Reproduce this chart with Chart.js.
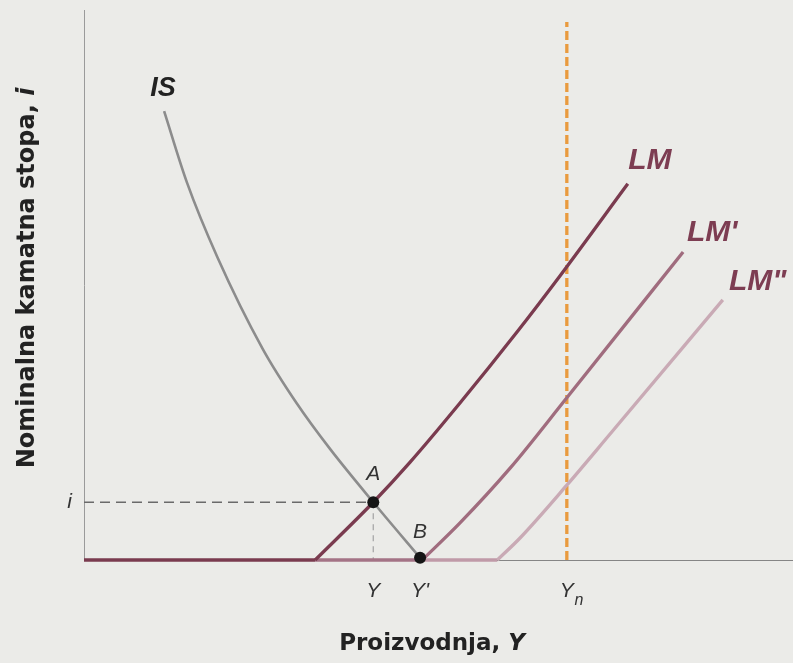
<!DOCTYPE html>
<html>
<head>
<meta charset="utf-8">
<script src="https://cdn.jsdelivr.net/npm/chart.js@4.4.1/dist/chart.umd.min.js"></script>
<style>
  html, body { margin: 0; padding: 0; background: #ebebe8; }
</style>
</head>
<body>
<canvas id="islm_chart" width="793" height="663"></canvas>
<script>
// values, both axes on a 0-100 scale
var isX = [11.3, 14.5, 18.8, 25.2, 30.0, 34.7, 40.8, 47.4];
var isY = [81.6, 68.7, 55.1, 38.4, 28.5, 20.2, 10.5, 0.4];

// LM curves: first point is the kink where the flat part ends
var lmX = [32.6, 40.8, 46.0, 53.0, 61.1, 67.1, 76.7];
var lmY = [0, 10.5, 17.8, 28.5, 41.5, 51.6, 68.4];

var lm1X = [47.7, 53.0, 60.1, 68.1, 84.5];
var lm1Y = [0, 6.7, 16.7, 29.5, 56.0];

var lm2X = [58.3, 61.5, 68.1, 74.2, 90.1];
var lm2Y = [0, 4.0, 13.6, 22.9, 47.3];

var ynX = 68.1;        // natural output
var ynTop = 97.8;
var pointA = { x: 40.8, y: 10.5 };
var pointB = { x: 47.4, y: 0.4 };

var xTicks = [40.8, 47.4, 68.1];
var xTickLabels = ["Y", "Y'", "Y"];
var yTicks = [10.5];
var yTickLabels = ["i"];

function pts(xs, ys) {
  return xs.map(function (x, k) { return { x: x, y: ys[k] }; });
}
function flat(from, to) {
  return [{ x: from, y: 0 }, { x: to, y: 0 }];
}

var labelsPlugin = {
  id: "islmLabels",
  afterDraw: function (chart) {
    var c = chart.ctx;
    var xs = chart.scales.x, ys = chart.scales.y;
    function px(x) { return xs.getPixelForValue(x); }
    function py(y) { return ys.getPixelForValue(y); }
    c.save();
    c.textAlign = "center";
    c.textBaseline = "middle";

    // curve names
    c.font = "bold italic 27px 'Liberation Sans'";
    c.fillStyle = "#222";
    c.fillText("IS", px(isX[0]) - 1, py(isY[0]) - 23);
    c.font = "bold italic 30px 'Liberation Sans'";
    c.fillStyle = "#7d3d52";
    c.fillText("LM", px(lmX[lmX.length - 1]) + 22, py(lmY[lmY.length - 1]) - 23);
    c.fillText("LM'", px(lm1X[lm1X.length - 1]) + 29, py(lm1Y[lm1Y.length - 1]) - 19);
    c.fillText('LM"', px(lm2X[lm2X.length - 1]) + 35, py(lm2Y[lm2Y.length - 1]) - 18);

    // equilibrium points
    c.font = "italic 21px 'Liberation Sans'";
    c.fillStyle = "#333";
    c.fillText("A", px(pointA.x), py(pointA.y) - 28);
    c.fillText("B", px(pointB.x), py(pointB.y) - 26);

    // subscript of the Yn tick
    c.font = "italic 16px 'Liberation Sans'";
    c.fillText("n", px(ynX) + 12, 601);

    // axis titles (bold with italic variable)
    c.fillStyle = "#222";
    c.textAlign = "left";
    var f1 = "bold 23px 'DejaVu Sans'", f2 = "bold italic 23px 'DejaVu Sans'";
    c.font = f1;
    var t1 = "Proizvodnja, ";
    var w1 = c.measureText(t1).width;
    c.font = f2;
    var w2 = c.measureText("Y").width;
    var sx = 432 - (w1 + w2) / 2;
    c.font = f1; c.fillText(t1, sx, 644);
    c.font = f2; c.fillText("Y", sx + w1, 644);

    c.translate(28, 278);
    c.rotate(-Math.PI / 2);
    var g1 = "bold 24px 'DejaVu Sans'", g2 = "bold italic 24px 'DejaVu Sans'";
    c.font = g1;
    var t2 = "Nominalna kamatna stopa, ";
    var v1 = c.measureText(t2).width;
    c.font = g2;
    var v2 = c.measureText("i").width;
    var sy = -(v1 + v2) / 2;
    c.font = g1; c.fillText(t2, sy, 0);
    c.font = g2; c.fillText("i", sy + v1, 0);
    c.restore();
  }
};

function noPad(scale) {
  scale.paddingTop = 0;
  scale.paddingBottom = 0;
  scale.paddingLeft = 0;
  scale.paddingRight = 0;
}

function lmLine(label, data, color) {
  return {
    label: label,
    data: data,
    showLine: true,
    borderColor: color,
    borderWidth: 3.3,
    pointRadius: 0,
    cubicInterpolationMode: "monotone",
    clip: false,
  };
}

var ctx = document.getElementById("islm_chart").getContext("2d");
var islm_chart = new Chart(ctx, {
  type: "scatter",
  data: {
    datasets: [
      {
        label: "A, B",
        data: [pointA, pointB],
        showLine: false,
        pointRadius: 6,
        pointBackgroundColor: "#151515",
        pointBorderWidth: 0,
        clip: false,
      },
      lmLine("LM", pts(lmX, lmY), "#7a3b4f"),
      lmLine("LM flat", flat(0, lmX[0]), "#7a3b4f"),
      lmLine("LM'", pts(lm1X, lm1Y), "#a06c7e"),
      lmLine("LM' flat", flat(lmX[0], lm1X[0]), "#a47386"),
      lmLine("LM''", pts(lm2X, lm2Y), "#c9aab5"),
      lmLine("LM'' flat", flat(lm1X[0], lm2X[0]), "#c09aa8"),
      {
        label: "IS",
        data: pts(isX, isY),
        showLine: true,
        borderColor: "#8c8c8c",
        borderWidth: 2.6,
        pointRadius: 0,
        cubicInterpolationMode: "monotone",
        clip: false,
      },
      {
        label: "Yn",
        data: [{ x: ynX, y: 0 }, { x: ynX, y: ynTop }],
        showLine: true,
        borderColor: "#e99a3e",
        borderWidth: 3.3,
        borderDash: [9, 4],
        pointRadius: 0,
        clip: false,
      },
      {
        label: "i",
        data: [{ x: 0, y: pointA.y }, pointA],
        showLine: true,
        borderColor: "#6a6a6a",
        borderWidth: 1.3,
        borderDash: [10, 6],
        pointRadius: 0,
      },
      {
        label: "Y",
        data: [pointA, { x: pointA.x, y: 0 }],
        showLine: true,
        borderColor: "#a8a8a8",
        borderWidth: 1.3,
        borderDash: [6, 5],
        pointRadius: 0,
      },
    ],
  },
  options: {
    responsive: false,
    animation: false,
    layout: { autoPadding: false, padding: { top: 10, right: 0, left: 0, bottom: 0 } },
    plugins: {
      legend: { display: false },
      tooltip: { enabled: false },
    },
    scales: {
      x: {
        min: 0,
        max: 100,
        grid: { display: false, drawTicks: false },
        border: { display: true, color: "#858585", width: 1 },
        afterBuildTicks: function (scale) {
          scale.ticks = xTicks.map(function (v) { return { value: v }; });
        },
        afterFit: function (scale) { scale.height = 103; noPad(scale); },
        ticks: {
          padding: 19,
          color: "#333",
          autoSkip: false,
          maxRotation: 0,
          font: { family: "'Liberation Sans'", size: 21, style: "italic" },
          callback: function (value, index) { return xTickLabels[index]; },
        },
      },
      y: {
        min: 0,
        max: 100,
        grid: { display: false, drawTicks: false },
        border: { display: true, color: "#9a9a9a", width: 1 },
        afterBuildTicks: function (scale) {
          scale.ticks = yTicks.map(function (v) { return { value: v }; });
        },
        afterFit: function (scale) { scale.width = 84; noPad(scale); },
        ticks: {
          padding: 12,
          color: "#333",
          font: { family: "'Liberation Sans'", size: 21, style: "italic" },
          callback: function (value, index) { return yTickLabels[index]; },
        },
      },
    },
  },
  plugins: [labelsPlugin],
});
</script>
</body>
</html>
